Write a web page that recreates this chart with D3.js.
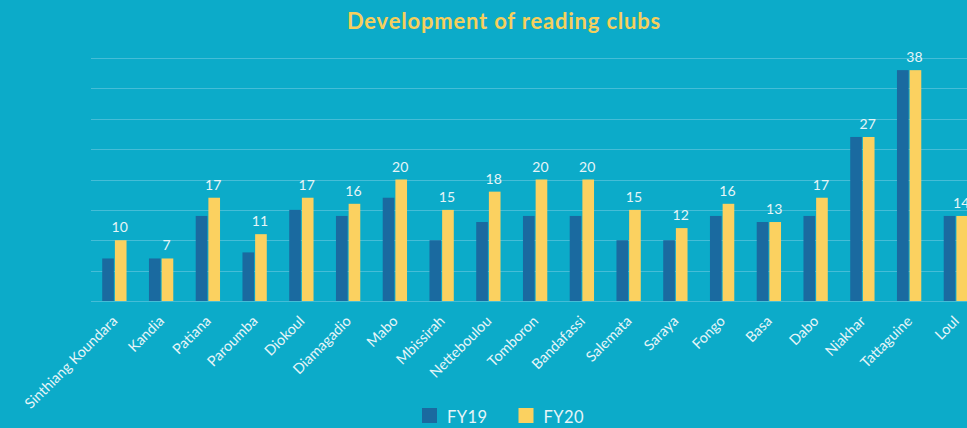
<!DOCTYPE html>
<html lang="en">

<head>
    <meta charset="UTF-8">
    <script src="https://cdn.jsdelivr.net/npm/d3@7"></script>
    <title>Development of reading clubs</title>
    <style>
        body { margin: 0; background: #0cabc9; overflow: hidden; }
        text { font-family: Lato, "Open Sans", sans-serif; }
    </style>
</head>

<body>
    <script>
        var width = 967;
        var height = 428;

        var clubs = ["Sinthiang Koundara", "Kandia", "Patiana", "Paroumba", "Diokoul", "Diamagadio", "Mabo", "Mbissirah",
            "Netteboulou", "Tomboron", "Bandafassi", "Salemata", "Saraya", "Fongo", "Basa", "Dabo", "Niakhar", "Tattaguine", "Loul"];
        var fy19 = [7, 7, 14, 8, 15, 14, 17, 10, 13, 14, 14, 10, 10, 14, 13, 14, 27, 38, 14];
        var fy20 = [10, 7, 17, 11, 17, 16, 20, 15, 18, 20, 20, 15, 12, 16, 13, 17, 27, 38, 14];
        var series = ["FY19", "FY20"];
        var colors = ["#1a6aa0", "#fbd160"];
        var yTicks = [0, 5, 10, 15, 20, 25, 30, 35, 40];

        var left = 91, step = 46.75, baseY = 301, topY = 58;

        var svg = d3.select("body").append("svg").attr("width", width).attr("height", height);

        var x = d3.scaleBand().domain(clubs).range([left, left + step * clubs.length]).paddingInner(0.48).paddingOuter(0.24);
        var xs = d3.scaleBand().domain(series).range([0, x.bandwidth()]).paddingInner(0.08);
        var y = d3.scaleLinear().domain([0, 40]).range([baseY, topY]);

        // title
        svg.append("text").attr("x", 504).attr("y", 29).attr("text-anchor", "middle")
            .style("font-size", "22px").style("font-weight", "bold").style("fill", "#f6cf5c")
            .style("letter-spacing", "0.8px")
            .text("Development of reading clubs");

        // grid
        svg.append("g").selectAll("line").data(yTicks).enter().append("line")
            .attr("x1", left).attr("x2", left + step * clubs.length)
            .attr("y1", function (d) { return Math.round(y(d)) + 0.5; })
            .attr("y2", function (d) { return Math.round(y(d)) + 0.5; })
            .style("stroke", "#45bdd7").style("stroke-width", 1);

        var rows = clubs.map(function (c, i) { return { club: c, FY19: fy19[i], FY20: fy20[i] }; });

        var groups = svg.append("g").selectAll("g").data(rows).enter().append("g")
            .attr("transform", function (d) { return "translate(" + x(d.club) + ",0)"; });

        groups.selectAll("rect").data(function (d) {
            return series.map(function (s, j) { return { key: s, value: d[s], color: colors[j] }; });
        }).enter().append("rect")
            .attr("x", function (d) { return xs(d.key); })
            .attr("y", function (d) { return y(d.value); })
            .attr("width", xs.bandwidth())
            .attr("height", function (d) { return baseY - y(d.value); })
            .style("fill", function (d) { return d.color; });

        // value labels above FY20
        groups.append("text")
            .attr("x", xs("FY20") + xs.bandwidth() / 2 - 1)
            .attr("y", function (d) { return y(d.FY20) - 8; })
            .attr("text-anchor", "middle")
            .style("font-size", "14px").style("fill", "#e6f5f8")
            .text(function (d) { return d.FY20; });

        // x axis labels
        var xAxis = d3.axisBottom(x).tickSize(0).tickPadding(0);
        var ax = svg.append("g").attr("transform", "translate(0," + baseY + ")").call(xAxis);
        ax.select(".domain").remove();
        ax.selectAll("text")
            .attr("text-anchor", "end")
            .attr("dy", null)
            .attr("transform", "translate(4,21) rotate(-45)")
            .style("font-size", "14.5px").style("fill", "#e6f5f8");

        // legend
        var legend = svg.append("g").selectAll("g").data(series).enter().append("g")
            .attr("transform", function (d, i) { return "translate(" + (422 + i * 96.5) + ",408)"; });
        legend.append("rect").attr("width", 15).attr("height", 15)
            .style("fill", function (d, i) { return colors[i]; });
        legend.append("text").attr("x", 25).attr("y", 14.5)
            .style("font-size", "16.5px").style("fill", "#e6f5f8").style("letter-spacing", "0.4px")
            .text(function (d) { return d; });
    </script>
</body>

</html>
